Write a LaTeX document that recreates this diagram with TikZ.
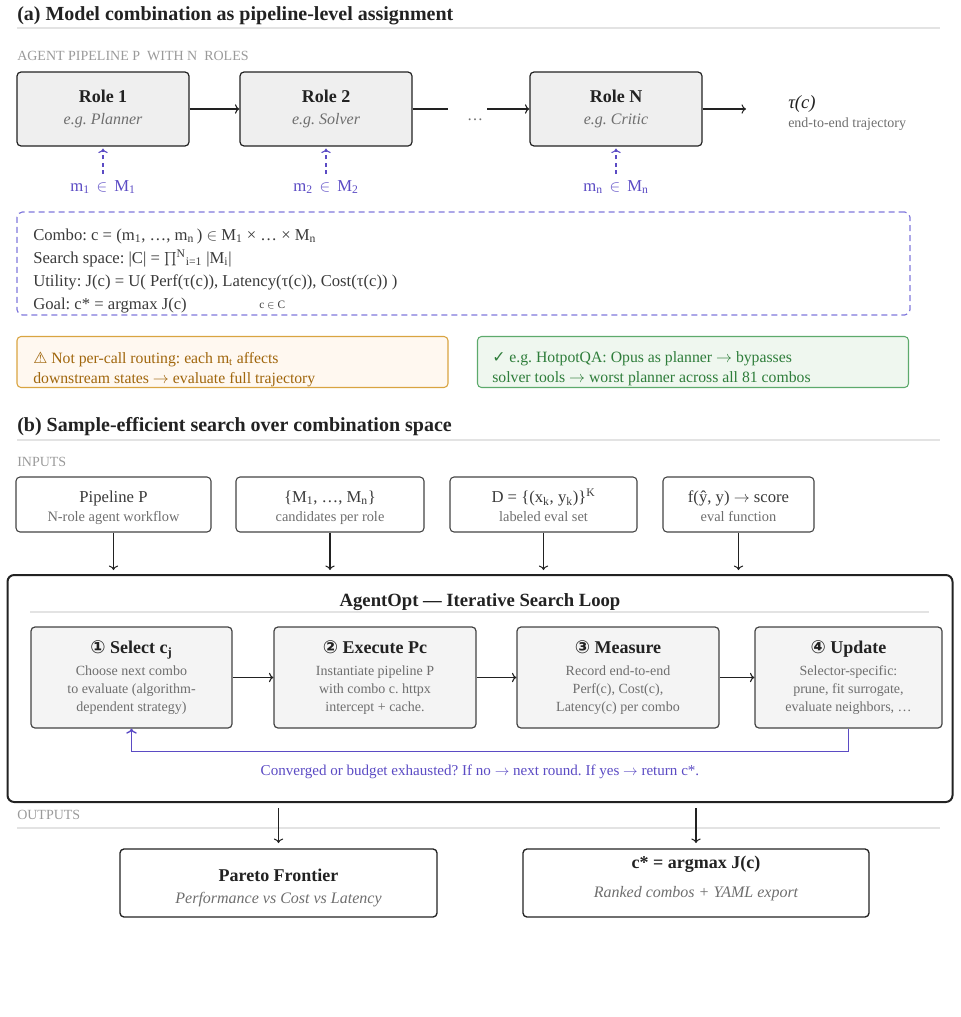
\documentclass[tikz,border=0pt]{standalone}
\usepackage{fontspec}
\setmainfont{Liberation Serif}
\newfontfamily\symfont{DejaVu Sans}
\usetikzlibrary{arrows.meta}

\newdimen\pxu \pxu=0.75pt
\newcommand{\fs}[2]{\fontsize{#1}{#2}\selectfont}
\newcommand{\toarr}{$\rightarrow$}

\definecolor{ink}{HTML}{222222}
\definecolor{bodyc}{HTML}{3A3A3A}
\definecolor{subgray}{HTML}{6E6E6E}
\definecolor{capgray}{HTML}{9A9A9A}
\definecolor{rulegray}{HTML}{E3E3E3}
\definecolor{rolefill}{HTML}{EFEFEF}
\definecolor{stepfill}{HTML}{F4F4F4}
\definecolor{loopc}{HTML}{5B4BC4}
\definecolor{combol}{HTML}{8078DC}
\definecolor{warnfill}{HTML}{FFF8F0}
\definecolor{warnline}{HTML}{D9A441}
\definecolor{warntext}{HTML}{A0660C}
\definecolor{okfill}{HTML}{EFF7EF}
\definecolor{okline}{HTML}{5DAA6C}
\definecolor{oktext}{HTML}{2E7D3A}

\tikzset{
  sectitle/.style={font=\fs{15}{18}\bfseries, text=ink},
  sectrule/.style={draw=rulegray, line width=1pt},
  capslabel/.style={font=\fs{10.5}{12}, text=capgray},
  flow/.style={->, draw=ink, line width=0.8pt},
  rolebox/.style={draw=ink, fill=rolefill, rounded corners=3pt, line width=0.9pt,
    minimum width=172\pxu, minimum height=74\pxu, align=center, font=\fs{13.5}{17}, text=ink},
  assignlbl/.style={font=\fs{12.5}{14}, text=loopc},
  assignarrow/.style={->, draw=loopc, line width=0.8pt, dash pattern=on 3pt off 2.5pt,
    shorten <=4.5pt, shorten >=1.5pt},
  combobox/.style={draw=combol, rounded corners=4pt, line width=0.9pt,
    dash pattern=on 4.5pt off 3pt, minimum width=893\pxu, minimum height=103\pxu},
  combotxt/.style={font=\fs{12.5}{14}, text=bodyc},
  notebox/.style={rounded corners=3pt, line width=0.8pt, minimum height=51\pxu, minimum width=431\pxu},
  notetxt/.style={anchor=west, align=left, font=\fs{11.8}{15}},
  inbox/.style={draw=ink!85, rounded corners=3pt, line width=0.8pt, minimum height=55\pxu},
  inmain/.style={anchor=base, font=\fs{12.5}{14}, text=bodyc},
  insub/.style={anchor=base, font=\fs{10.8}{12}, text=subgray},
  loopbox/.style={draw=ink, rounded corners=5pt, line width=1.5pt,
    minimum width=945\pxu, minimum height=227\pxu},
  stepbox/.style={draw=ink!85, fill=stepfill, rounded corners=3pt, line width=0.9pt,
    minimum width=201\pxu, minimum height=101\pxu, align=center, font=\fs{10.5}{13.4}, text=subgray},
  loopback/.style={->, draw=loopc, line width=1pt},
  outbox/.style={draw=ink, rounded corners=3pt, line width=1pt, minimum height=68\pxu},
  outmain/.style={anchor=base, font=\fs{13.5}{16}\bfseries, text=ink},
  outsub/.style={anchor=base, font=\fs{12}{14}\itshape, text=subgray}
}

\begin{document}
\frenchspacing
\begin{tikzpicture}[x=0.75pt, y=-0.75pt, every node/.style={inner sep=0pt}]
\useasboundingbox (0,0) rectangle (960,1017);

% (a) pipeline-level assignment
\node[sectitle, anchor=base west] (titleA) at (17,21) {(a) Model combination as pipeline-level assignment};
\draw[sectrule] (17,28) -- (940,28);
\node[capslabel, anchor=base west] (pipeCap) at (17,60) {AGENT PIPELINE P\enspace WITH N\enspace ROLES};

\node[rolebox] (role1) at (103,109) {\textbf{Role 1}\\{\fs{12}{14}\itshape\color{subgray}e.g. Planner}};
\node[rolebox] (role2) at (326,109) {\textbf{Role 2}\\{\fs{12}{14}\itshape\color{subgray}e.g. Solver}};
\node[rolebox] (roleN) at (616,109) {\textbf{Role N}\\{\fs{12}{14}\itshape\color{subgray}e.g. Critic}};
\node[anchor=base, font=\fs{12}{14}, text=subgray] (dots) at (475,120) {…};
\coordinate (gapL) at (448,109);
\coordinate (gapR) at (487,109);
\coordinate (trajEnd) at (746,109);
\draw[flow] (role1) -- (role2);
\draw[draw=ink, line width=0.8pt] (role2) -- (gapL);
\draw[flow] (gapR) -- (roleN);
\draw[flow] (roleN) -- (trajEnd);
\node[anchor=base west, font=\fs{14}{16}\itshape, text=ink] (tau) at (788,108) {τ(c)};
\node[anchor=base west, font=\fs{10.5}{12}, text=subgray] (tauTxt) at (788,127) {end-to-end trajectory};

% model per role
\node[assignlbl] (m1) at (103,187) {m\textsubscript{1} \,$\in$\, M\textsubscript{1}};
\node[assignlbl] (m2) at (326,187) {m\textsubscript{2} \,$\in$\, M\textsubscript{2}};
\node[assignlbl] (mN) at (616,187) {m\textsubscript{n} \,$\in$\, M\textsubscript{n}};
\draw[assignarrow] (m1) -- (role1);
\draw[assignarrow] (m2) -- (role2);
\draw[assignarrow] (mN) -- (roleN);

% formulation
\node[combobox] (combo) at (463.5,263.5) {};
\node[combotxt, anchor=base west] (comboL1) at (33,240) {Combo: c = (m\textsubscript{1}, …, m\textsubscript{n}\,) $\in$ M\textsubscript{1} × … × M\textsubscript{n}};
\node[combotxt, anchor=base west] (comboL2) at (33,263) {Search space: |C| = $\prod$\textsuperscript{N}\textsubscript{i=1} |M\textsubscript{i}|};
\node[combotxt, anchor=base west] (comboL3) at (33,286) {Utility: J(c) = U( Perf(τ(c)), Latency(τ(c)), Cost(τ(c)) )};
\node[combotxt, anchor=base west] (comboL4) at (33,309) {Goal: c* = argmax J(c)};
\node[anchor=base west, font=\fs{8.5}{10}, text=bodyc] (goalSub) at (259,308) {c $\in$ C};

\node[notebox, draw=warnline, fill=warnfill] (warnNote) at (232.5,362) {};
\node[notetxt, text=warntext] (warnTxt) at (33,369)
  {{\symfont ⚠} Not per-call routing: each m\textsubscript{t} affects\\downstream states \toarr{} evaluate full trajectory};
\node[notebox, draw=okline, fill=okfill] (okNote) at (693,362) {};
\node[notetxt, text=oktext] (okTxt) at (492,369)
  {{\symfont ✓} e.g. HotpotQA: Opus as planner \toarr{} bypasses\\solver tools \toarr{} worst planner across all 81 combos};

% (b) search loop
\node[sectitle, anchor=base west] (titleB) at (17,431) {(b) Sample-efficient search over combination space};
\draw[sectrule] (17,440) -- (940,440);
\node[capslabel, anchor=base west] (inCap) at (17,466) {INPUTS};

\node[inbox, minimum width=195\pxu] (inPipe) at (113.5,504.5) {};
\node[inbox, minimum width=188\pxu] (inModels) at (330,504.5) {};
\node[inbox, minimum width=187\pxu] (inData) at (543.5,504.5) {};
\node[inbox, minimum width=151\pxu] (inEval) at (738.5,504.5) {};
\node[inmain] (inPipeT) at (113.5,502.5) {Pipeline P};
\node[insub] (inPipeS) at (113.5,521.5) {N-role agent workflow};
\node[inmain] (inModelsT) at (330,502.5) {\{M\textsubscript{1}, …, M\textsubscript{n}\}};
\node[insub] (inModelsS) at (330,521.5) {candidates per role};
\node[inmain] (inDataT) at (543.5,502.5) {D = \{(x\textsubscript{k}, y\textsubscript{k})\}\textsuperscript{K}};
\node[insub] (inDataS) at (543.5,521.5) {labeled eval set};
\node[inmain] (inEvalT) at (738.5,502.5) {f(ŷ, y) \toarr{} score};
\node[insub] (inEvalS) at (738.5,521.5) {eval function};

\node[loopbox] (loop) at (480,688.5) {};
\foreach \n in {inPipe,inModels,inData,inEval}
  \draw[flow, shorten >=3pt] (\n) -- (\n |- loop.north);

\node[anchor=base, font=\fs{14}{16}\bfseries, text=ink] (loopTitle) at (480,606) {AgentOpt — Iterative Search Loop};
\draw[sectrule] (30,612) -- (929,612);

\node[stepbox] (s1) at (131.5,677.5) {{\fs{13.5}{16}\bfseries\color{ink}{\symfont ①} Select c\textsubscript{j}}\\[3pt]Choose next combo\\to evaluate (algorithm-\\dependent strategy)};
\node[stepbox, minimum width=202\pxu] (s2) at (375,677.5) {{\fs{13.5}{16}\bfseries\color{ink}{\symfont ②} Execute Pc}\\[3pt]Instantiate pipeline P\\with combo c. httpx\\intercept + cache.};
\node[stepbox, minimum width=202\pxu] (s3) at (618,677.5) {{\fs{13.5}{16}\bfseries\color{ink}{\symfont ③} Measure}\\[3pt]Record end-to-end\\Perf(c), Cost(c),\\Latency(c) per combo};
\node[stepbox, minimum width=187\pxu] (s4) at (848.5,677.5) {{\fs{13.5}{16}\bfseries\color{ink}{\symfont ④} Update}\\[3pt]Selector-specific:\\prune, fit surrogate,\\evaluate neighbors, …};
\draw[flow] (s1) -- (s2);
\draw[flow] (s2) -- (s3);
\draw[flow] (s3) -- (s4);
\draw[loopback] (s4.south) -- ++(0,23) -| (s1.south);
\node[anchor=base, font=\fs{11.3}{13}, text=loopc] (loopNote) at (480,775) {Converged or budget exhausted? If no \toarr{} next round. If yes \toarr{} return c*.};

% outputs
\node[capslabel, anchor=base west] (outCap) at (17,819) {OUTPUTS};
\draw[sectrule] (17,828) -- (940,828);
\node[outbox, minimum width=317\pxu] (out1) at (278.5,883) {};
\node[outmain] (paretoT) at (278.5,881) {Pareto Frontier};
\node[outsub] (paretoS) at (278.5,903) {Performance vs Cost vs Latency};
\node[outbox, minimum width=346\pxu] (out2) at (696,883) {};
\node[outmain] (optT) at (696,868) {c* = argmax J(c)};
\node[outsub] (optS) at (696,897) {Ranked combos + YAML export};
\draw[flow, shorten <=4pt, shorten >=4pt] (loop.south -| out1) -- (out1);
\draw[flow, shorten <=4pt, shorten >=4pt] (loop.south -| out2) -- (out2);
\end{tikzpicture}
\end{document}
